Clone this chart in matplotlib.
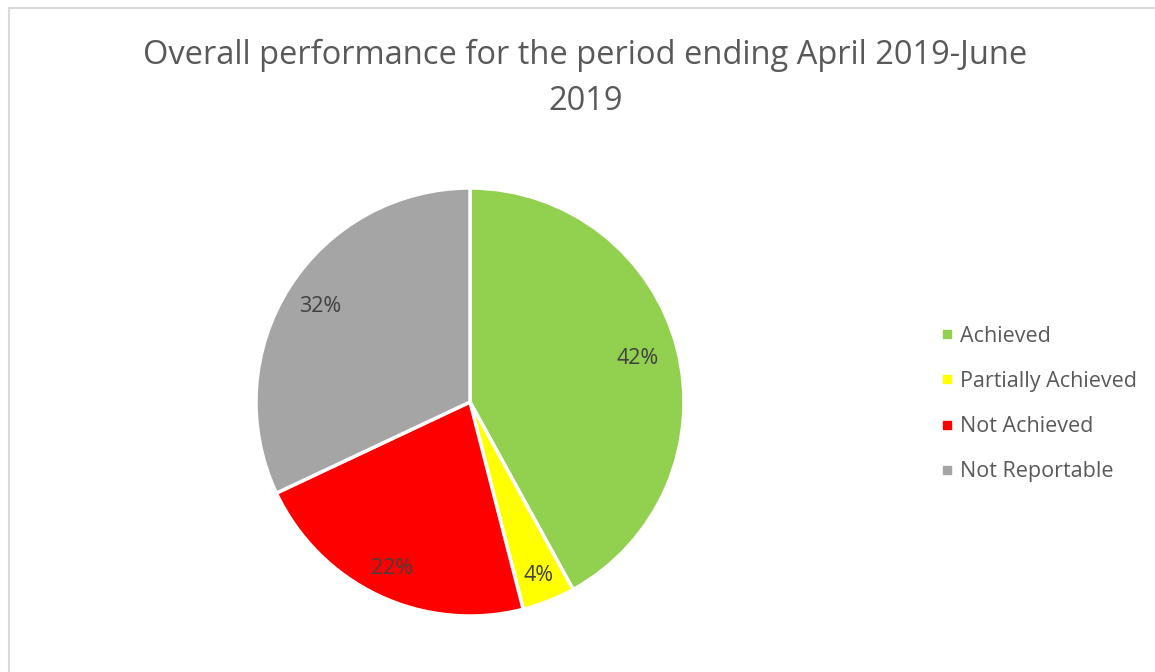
import numpy as np
import matplotlib.pyplot as plt
from matplotlib.lines import Line2D
from matplotlib.patches import Rectangle

# --- Data ---
CATEGORIES = ['Achieved', 'Partially Achieved', 'Not Achieved', 'Not Reportable']
VALUES = [42, 4, 22, 32]
COLORS = ['#92D050', '#FFFF00', '#FF0000', '#A5A5A5']
TITLE = 'Overall performance for the period ending April 2019-June\n2019'

# label distance from centre (fraction of radius), per slice, like Excel's best fit
LABEL_DIST = [0.81, 0.87, 0.86, 0.83]

plt.rcParams['font.family'] = ['Open Sans', 'DejaVu Sans']

fig = plt.figure(figsize=(11.55, 6.72), dpi=100)

# light chart border (extends past right/bottom edge like the crop)
fig.patches.append(Rectangle((9 / 1155, -0.05), 1.2, 1 - 8 / 672 + 0.05,
                             transform=fig.transFigure, fill=False,
                             edgecolor='#d9d9d9', linewidth=1.5))

# --- Pie ---
ax = fig.add_axes([256 / 1155, (672 - 616) / 672, 428 / 1155, 428 / 672])
wedges, texts, autotexts = ax.pie(
    VALUES, colors=COLORS, startangle=90, counterclock=False,
    autopct='%d%%', pctdistance=0.83,
    wedgeprops=dict(edgecolor='white', linewidth=2.5),
    textprops=dict(color='#404040', fontsize=15.5),
)
for w, t, d in zip(wedges, autotexts, LABEL_DIST):
    ang = np.deg2rad((w.theta1 + w.theta2) / 2)
    t.set_position((d * np.cos(ang), d * np.sin(ang)))
ax.set_xlim(-1, 1)
ax.set_ylim(-1, 1)
ax.set_aspect('equal')

# --- Title ---
fig.text(0.507, 1 - 78.5 / 672, TITLE, ha='center', va='center',
         fontsize=23.5, color='#595959', linespacing=1.55)

# --- Legend ---
handles = [Line2D([], [], linestyle='none', marker='s', markersize=6,
                  markerfacecolor=c, markeredgecolor=c) for c in COLORS]
fig.legend(handles, CATEGORIES, loc='center left',
           bbox_to_anchor=(921 / 1155, 1 - 404 / 672), frameon=False,
           fontsize=15.5, labelcolor='#595959', handlelength=0.6,
           handletextpad=0.3, labelspacing=1.13)

plt.savefig('out.png', dpi=100)
